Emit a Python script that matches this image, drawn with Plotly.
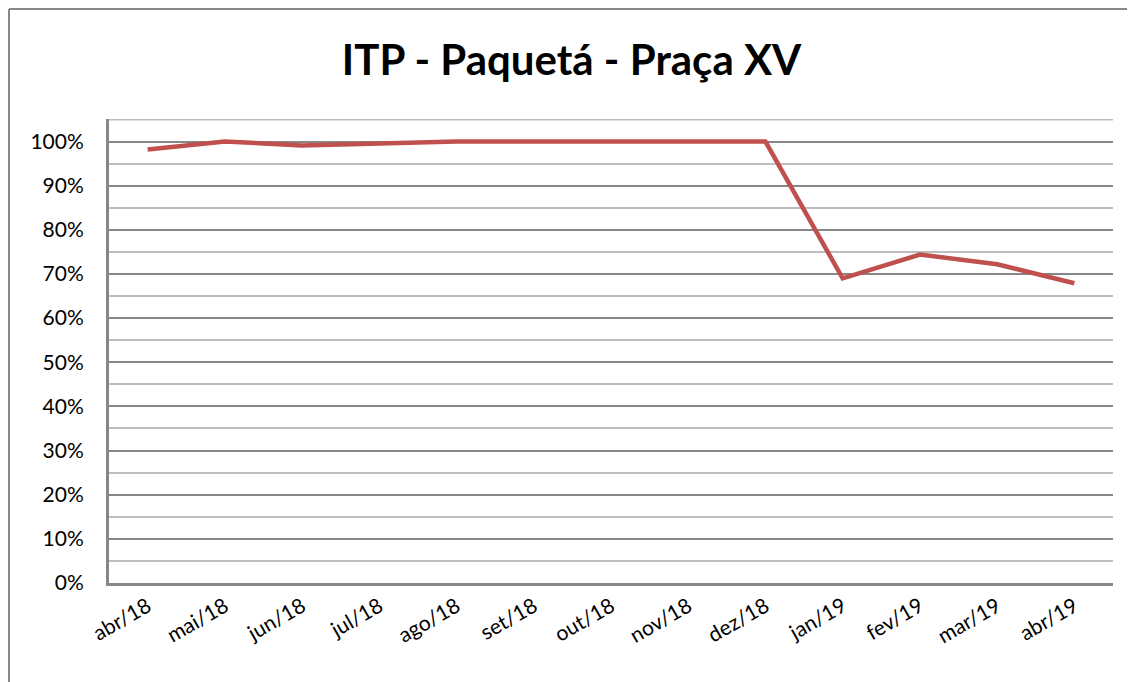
import plotly.graph_objects as go

meses = ["abr/18", "mai/18", "jun/18", "jul/18", "ago/18", "set/18", "out/18",
         "nov/18", "dez/18", "jan/19", "fev/19", "mar/19", "abr/19"]
itp = [0.982, 1.0, 0.991, 0.995, 1.0, 1.0, 1.0, 0.998, 1.0, 0.69, 0.744, 0.722, 0.679]

font_main = "Lato, 'Noto Sans', sans-serif"
grid_major = "#878787"
grid_minor = "#bdbdbd"

# a página tem 8px de margem no body, então a figura é 8px menor
W, H = 1127, 674
ML, MT = 101, 111
plot_w, plot_h = 1004, 464
MR = W - ML - plot_w
MB = H - MT - plot_h

fig = go.Figure(go.Scatter(
    x=meses,
    y=itp,
    mode="lines",
    line=dict(color="#C0504D", width=4.5),
    hoverinfo="x+y",
))

fig.update_layout(
    width=W,
    height=H,
    margin=dict(l=ML, r=MR, t=MT, b=MB),
    paper_bgcolor="white",
    plot_bgcolor="white",
    showlegend=False,
    font=dict(family=font_main, color="black", size=20),
    title=dict(
        text="<b>ITP - Paquetá - Praça XV</b>",
        x=0.5, xanchor="center",
        y=1 - 52 / H, yanchor="middle",
        font=dict(size=42, family=font_main, color="black"),
    ),
    xaxis=dict(
        type="category",
        range=[-0.5, len(meses) - 0.5],
        showgrid=False,
        showline=True,
        linecolor=grid_major,
        linewidth=3,
        tickangle=-30,
        ticks="",
        tickfont=dict(size=21),
        fixedrange=True,
    ),
    yaxis=dict(
        range=[0, 1.051],
        dtick=0.1,
        tickformat=".0%",
        showgrid=True,
        gridcolor=grid_major,
        gridwidth=2,
        minor=dict(dtick=0.05, showgrid=True, gridcolor=grid_minor, gridwidth=2),
        showline=True,
        linecolor=grid_major,
        linewidth=3,
        zeroline=False,
        ticks="",
        ticklabelstandoff=18,
        tickfont=dict(size=21),
        fixedrange=True,
    ),
)

# linha de grade secundária do topo (105%)
fig.add_shape(type="line", xref="paper", yref="y", layer="below",
              x0=0, x1=1, y0=1.05, y1=1.05,
              line=dict(color=grid_minor, width=2))

# moldura externa do gráfico (só topo e esquerda aparecem no recorte)
px_x = lambda p: (p - 8 - ML) / plot_w
px_y = lambda p: (MT + plot_h - (p - 8)) / plot_h
fig.add_shape(type="line", xref="paper", yref="paper",
              x0=px_x(9), x1=px_x(1140), y0=px_y(9), y1=px_y(9),
              line=dict(color=grid_major, width=2))
fig.add_shape(type="line", xref="paper", yref="paper",
              x0=px_x(9), x1=px_x(9), y0=px_y(9), y1=px_y(690),
              line=dict(color=grid_major, width=2))

fig.write_html("out.html")
